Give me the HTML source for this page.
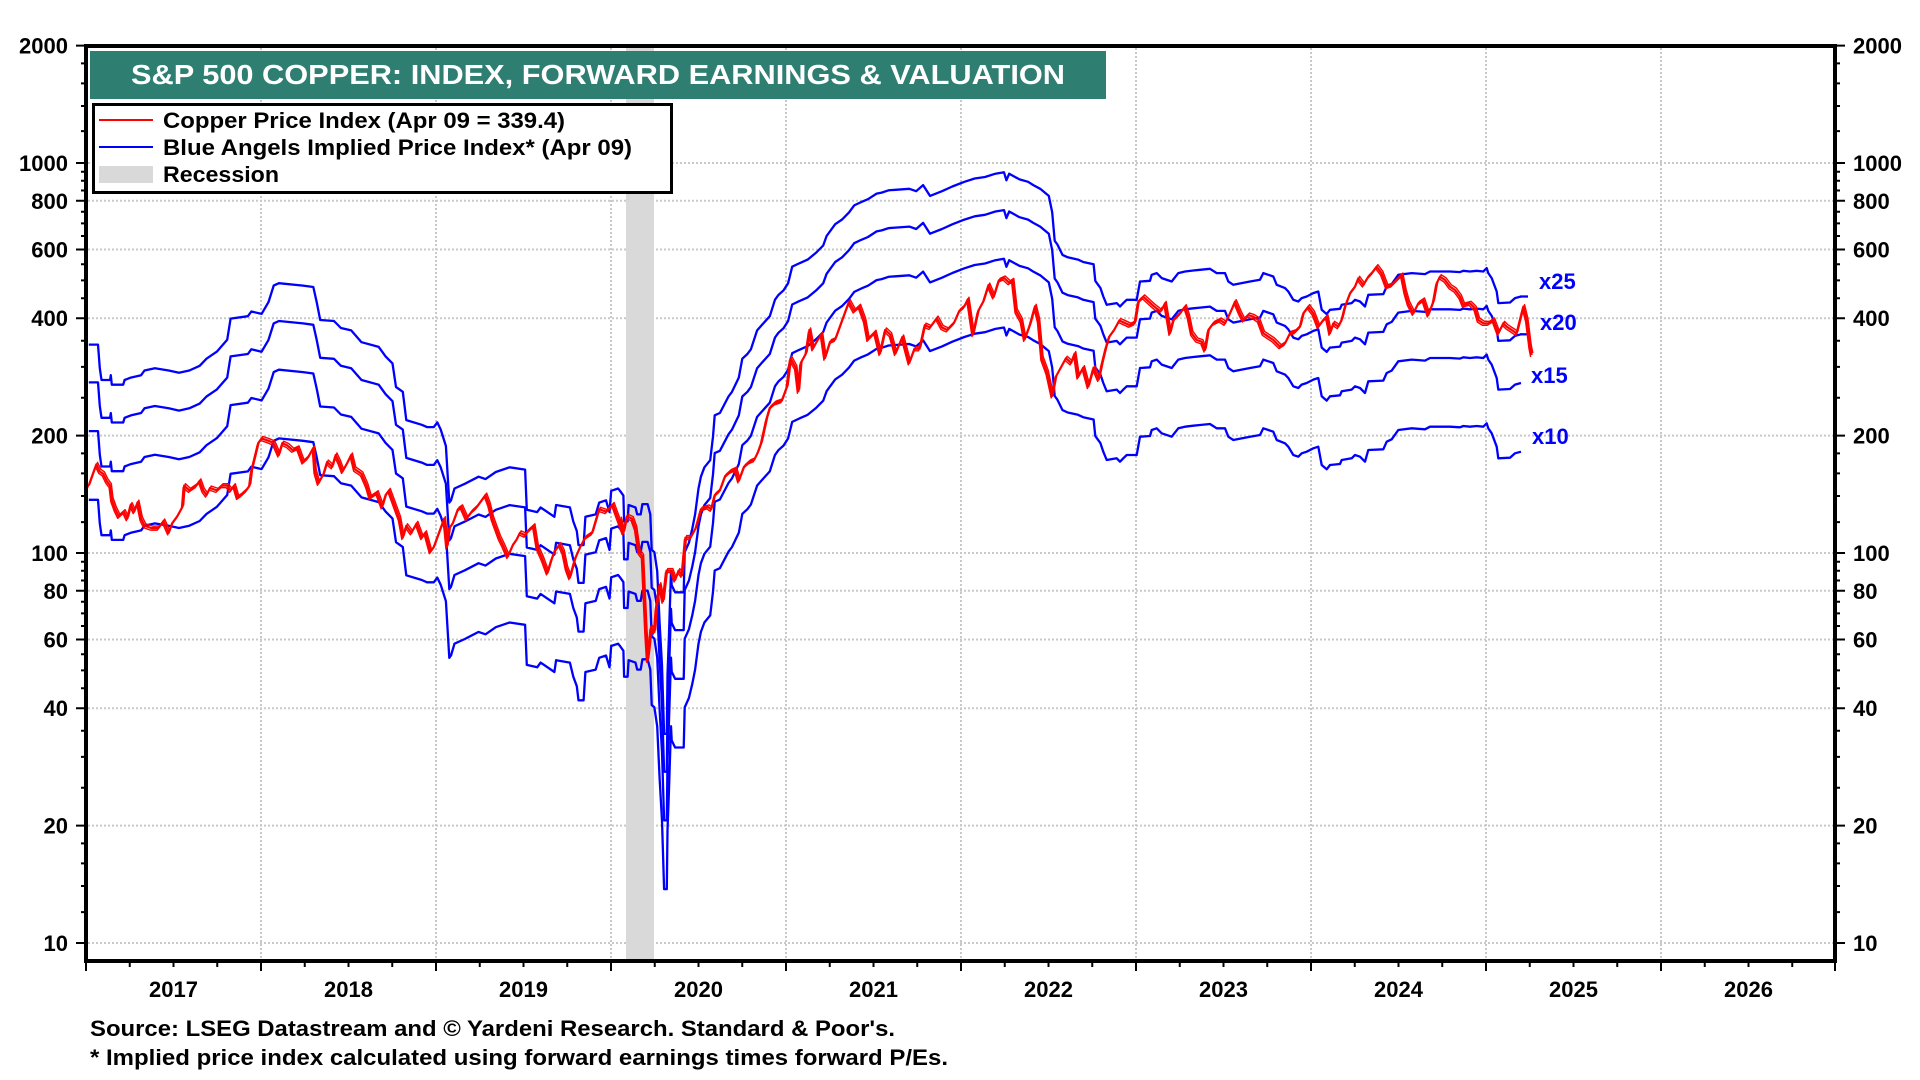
<!DOCTYPE html>
<html><head><meta charset="utf-8"><style>
html,body{margin:0;padding:0;background:#fff;}
svg{display:block;}
text{font-family:"Liberation Sans",Arial,sans-serif;font-weight:bold;}
</style></head><body>
<svg width="1920" height="1080" viewBox="0 0 1920 1080" xmlns="http://www.w3.org/2000/svg">
<rect x="0" y="0" width="1920" height="1080" fill="#fff"/>

<!-- gridlines -->
<g stroke="#c9c9c9" stroke-width="2" stroke-dasharray="2,2" fill="none">
<path d="M88,163H1833 M88,200.8H1833 M88,249.5H1833 M88,318.2H1833 M88,435.6H1833 M88,553H1833 M88,590.8H1833 M88,639.5H1833 M88,708.2H1833 M88,825.6H1833 M88,943H1833"/>
<path d="M261,48V959 M436,48V959 M611,48V959 M786,48V959 M961,48V959 M1136,48V959 M1311,48V959 M1486,48V959 M1661,48V959"/>
</g>

<!-- recession -->
<rect x="626" y="48" width="28" height="911" fill="#d9d9d9"/>

<!-- blue lines -->
<defs>
<path id="b10" fill="none" d="M88.8,499.8 L98,499.8 99.8,523.4 101.5,535.2 110.1,535.2 110.8,530.4 111.8,539.9 123.2,539.9 124.6,535.2 130.8,532.8 141.1,530.4 144.5,525.7 154.9,523.4 168.7,525.7 179,528 189.3,525.7 199.7,521 206.5,513.9 216.9,506.8 227.2,495 230.6,473.8 247.9,471.4 251.3,466.7 261.6,469.1 268.5,457.3 273.7,440.8 278.9,438.4 303,440.8 313.3,442.2 316.7,457.3 320.2,475.2 334,476.2 340.9,483.2 351.2,485.6 361.5,497.4 378.7,502.1 385.6,511.6 392.5,518.6 396,542.2 402.8,547 406.3,575.3 421.8,580 427,582.3 433.8,582.3 437.3,577.6 440.7,584.7 445.9,601.2 449.3,657.8 451,655.5 454.5,643.7 464.8,639 478.6,631.9 485.5,634.3 495.8,627.2 509.6,622.5 525.1,624.8 526.8,664.9 537.2,667.3 540.6,662.6 554.4,672 556.1,660.2 569.9,662.6 573.3,676.7 576.8,686.2 578.5,700.3 583.6,700.3 585.4,672 595.7,669.6 599.2,657.8 606,655.5 609.5,667.3 611.2,646 618.1,643.7 620,646 623.4,650.8 624.1,676.7 627.6,676.7 628.6,660.2 635.5,662.6 637.2,669.6 640.7,669.6 642.4,659.3 647.6,659.3 650.3,669.6 651.7,705 654.4,707.4 657.2,726.3 659.6,778.2 662,820.7 664.1,889.1 666.8,889.1 667.5,830.1 668.9,792.3 671,726.3 671.7,740.4 675.1,747.5 683.7,747.5 684.7,707.4 688.9,698 692.3,683.8 695.1,669.6 698.5,643.7 700.9,631.9 704.4,622.5 710.2,615.4 713,591.8 714.7,570.5 719.9,568.2 728.5,551.7 732,547 738.8,532.8 742.3,513.9 747.4,509.2 750.9,504.5 757.1,485.6 761.2,480.9 769.8,471.4 775,454.9 778.4,450.2 783.6,445.5 788.1,438.4 792.2,421.9 799.1,418.6 807.7,414.8 816.3,407.7 823.2,400.7 826.6,391.2 835.2,379.4 842.1,374.7 849,367.6 854.2,360.6 861.1,357.3 868,354.4 876.6,348.8 881.7,347.8 888.6,345.5 895.5,345 909.3,344 916.2,346.4 923.1,340.3 930,351.1 942,346.4 952.3,341.7 964.4,337 974.7,333.7 985,332.2 995.4,328.9 1004,327.5 1006.4,335.5 1009.2,328.9 1019.5,334.6 1028.1,337 1033.3,340.3 1040.2,344 1048.8,351.1 1052.2,367.6 1054.7,396 1057.4,399.7 1062.5,410.1 1067.7,412.5 1078,414.8 1083.2,417.2 1093.6,419.5 1095.3,436.1 1100.4,443.1 1103.3,451.7 1106.7,460 1116.7,458.3 1120,461.7 1123.3,458.3 1126.7,455 1136.7,455 1140,436.7 1150,436 1151.7,430 1156.7,428.3 1161.7,433.3 1171.7,436.7 1178.3,428.3 1185,426.7 1193.3,425.7 1200,425 1210,424 1216.7,428.3 1225,428.3 1228.3,436.7 1233.3,440 1250,436.7 1260,435 1263.3,428.3 1268.3,430 1273.3,431.7 1276.7,440 1285,443.3 1288.3,446.7 1293.3,455 1298.3,456.7 1301.7,453.3 1306.7,451.7 1313.3,448.3 1318.3,446.7 1321.7,465 1326.7,469.3 1330,465 1340,464 1341.7,460 1351.7,458.3 1355,455 1360,456.7 1365,461.7 1368.3,450 1383.3,449.3 1386.7,441.7 1391.7,439.3 1398.3,430 1411.7,428.3 1425,429.3 1430,426.7 1450,426.7 1460,427.3 1463.3,426 1470,426.7 1476.7,426 1483.3,426.7 1486.7,423.3 1488.3,428.3 1491.7,433.3 1496.7,446.7 1498.3,458.3 1510,457.7 1515,453.3 1521,451.7"/>
<g id="red">
<g transform="translate(86,160) scale(0.34438,0.47194)">
<path vector-effect="non-scaling-stroke" d="M8,690 L20,665 30,645 40,660 50,665 60,680 70,690 75,720 85,740 95,755 110,745 120,760 130,730 140,745 150,725 160,760 170,775 190,780 210,780 225,765 240,790 250,770 265,755 280,735 285,690 300,700 320,690 330,680 340,700 350,710 360,695 380,700 395,690 410,690 420,700 430,690 440,715 450,710 465,700 475,690 480,660 490,630 500,600 510,590 530,595 545,600 560,625 570,600 585,605 600,615 615,610 630,640 645,630 660,610 665,660 675,685 690,665 700,640 715,650 725,625 735,640 745,660 760,640 770,625 780,655 800,665 815,690 825,715 845,705 860,735 870,710 880,700 890,720 900,740 910,760 920,800 930,775 945,790 960,770 975,800 985,790 1000,830 1010,820 1020,800 1030,780 1040,760 1048,820 1055,780 1065,770 1080,740 1090,735 1105,760 1120,745 1135,735 1150,720 1160,710 1170,730 1180,760 1190,780 1200,800 1210,815 1225,840 1240,815 1250,805 1260,790 1275,795 1285,785 1300,775 1310,820 1325,845 1340,875 1350,850 1360,830 1375,815 1385,830 1395,865 1405,885 1420,845 1435,820 1450,800 1470,790 1490,740 1510,745 1530,730 1545,760 1560,790"/>
</g>
<g transform="translate(620,160) scale(0.34438,0.47194)">
<path vector-effect="non-scaling-stroke" d="M0,760 L10,790 20,755 35,760 45,780 55,830 65,840 70,920 75,1000 80,1060 85,1030 90,990 100,1000 105,950 115,900 125,935 135,870 150,870 160,890 170,870 180,880 190,800 205,800 220,780 235,740 255,735 265,740 275,710 290,700 305,670 320,660 335,655 345,680 360,650 375,640 390,635 400,620 410,600 425,550 435,525 450,515 470,510 485,480 495,420 510,440 518,490 525,430 540,410 550,360 560,400 575,380 585,370 595,420 610,385 625,380 640,350 655,320 665,300 680,320 695,310 710,340 720,380 740,365 755,410 770,360 785,370 800,410 820,375 840,430 855,400 870,400 885,350 900,355 920,335 935,355 950,360 970,345 985,320 1000,310 1010,295 1025,370 1040,320 1055,300 1070,265 1085,290 1100,255 1115,250 1130,260 1140,255 1150,320 1165,340 1175,380 1190,350 1205,310 1215,340 1225,420 1240,450 1255,500 1265,460 1280,440 1295,420 1310,430 1320,410 1330,460 1345,440 1360,480 1375,440 1390,465 1400,430 1410,400 1420,375 1435,360 1450,340 1465,345 1480,350 1495,345 1505,300 1520,290 1535,300 1550,310 1568,320"/>
</g>
<g transform="translate(1100,160) scale(0.33333)">
<path vector-effect="non-scaling-stroke" d="M180,448 L185,450 195,430 210,520 220,480 240,460 255,440 265,470 275,520 290,540 305,545 315,570 325,510 340,490 360,480 375,490 390,460 405,425 420,460 430,480 445,465 460,470 475,480 490,520 505,530 520,540 540,560 555,550 570,520 585,515 600,500 610,460 625,440 640,460 655,500 670,480 680,470 690,520 700,490 715,500 725,480 735,440 750,400 765,380 775,355 790,375 805,350 815,340 830,320 845,340 860,380 875,375 890,360 905,345 915,395 925,430 940,460 955,430 970,420 985,465 1000,425 1010,370 1020,350 1035,360 1050,380 1065,390 1080,410 1090,435 1110,430 1125,445 1135,480 1150,490 1165,490 1180,480 1195,520 1210,490 1220,500 1235,510 1250,520 1260,480 1270,440 1280,480 1285,520 1290,560 1295,585"/>
</g>
</g>
</defs>
<g stroke="#0000ff" stroke-width="2.3" fill="none" stroke-linejoin="round">
<use href="#b10"/>
<g transform="translate(0,-68.7)"><use href="#b10"/></g>
<g transform="translate(0,-117.4)"><use href="#b10"/><path d="M1520,451.7H1528"/></g>
<g transform="translate(0,-155.2)"><use href="#b10"/><path d="M1520,451.7H1528"/></g>
</g>

<!-- red line (with slight texture) -->
<g stroke="#ff0000" fill="none" stroke-linejoin="round">
<g stroke-width="1.4" transform="translate(1.2,-2)"><use href="#red"/></g>
<g stroke-width="1.4" transform="translate(-1,2)"><use href="#red"/></g>
<g stroke-width="2.2"><use href="#red"/></g>
</g>

<!-- frame -->
<rect x="86" y="46" width="1749" height="915" fill="none" stroke="#000" stroke-width="4"/>

<!-- y ticks -->
<g stroke="#000" stroke-width="2" fill="none">
<path d="M76,45.6H86 M76,163H86 M76,200.8H86 M76,249.5H86 M76,318.2H86 M76,435.6H86 M76,553H86 M76,590.8H86 M76,639.5H86 M76,708.2H86 M76,825.6H86 M76,943H86"/>
<path d="M81,63.4H86 M81,83.4H86 M81,106H86 M81,131.1H86 M81,171.7H86 M81,180.8H86 M81,190.5H86 M81,211.7H86 M81,223.4H86 M81,236H86 M81,264.3H86 M81,280.4H86 M81,298.2H86 M81,340.8H86 M81,366.9H86 M81,397.8H86 M81,453.4H86 M81,473.4H86 M81,496H86 M81,522.1H86 M81,561.7H86 M81,570.8H86 M81,580.5H86 M81,601.7H86 M81,613.4H86 M81,626H86 M81,654.3H86 M81,670.4H86 M81,688.2H86 M81,730.8H86 M81,756.9H86 M81,787.8H86 M81,843.4H86 M81,863.4H86 M81,886H86 M81,912.1H86"/>
<path d="M1835,45.6H1845 M1835,163H1845 M1835,200.8H1845 M1835,249.5H1845 M1835,318.2H1845 M1835,435.6H1845 M1835,553H1845 M1835,590.8H1845 M1835,639.5H1845 M1835,708.2H1845 M1835,825.6H1845 M1835,943H1845"/>
<path d="M1835,63.4H1840 M1835,83.4H1840 M1835,106H1840 M1835,131.1H1840 M1835,171.7H1840 M1835,180.8H1840 M1835,190.5H1840 M1835,211.7H1840 M1835,223.4H1840 M1835,236H1840 M1835,264.3H1840 M1835,280.4H1840 M1835,298.2H1840 M1835,340.8H1840 M1835,366.9H1840 M1835,397.8H1840 M1835,453.4H1840 M1835,473.4H1840 M1835,496H1840 M1835,522.1H1840 M1835,561.7H1840 M1835,570.8H1840 M1835,580.5H1840 M1835,601.7H1840 M1835,613.4H1840 M1835,626H1840 M1835,654.3H1840 M1835,670.4H1840 M1835,688.2H1840 M1835,730.8H1840 M1835,756.9H1840 M1835,787.8H1840 M1835,843.4H1840 M1835,863.4H1840 M1835,886H1840 M1835,912.1H1840"/>
<!-- x ticks -->
<path d="M86,961V971 M261,961V971 M436,961V971 M611,961V971 M786,961V971 M961,961V971 M1136,961V971 M1311,961V971 M1486,961V971 M1661,961V971 M1835,961V971"/>
<path d="M129.75,961V967 M173.5,961V967 M217.25,961V967 M304.75,961V967 M348.5,961V967 M392.25,961V967 M479.75,961V967 M523.5,961V967 M567.25,961V967 M654.75,961V967 M698.5,961V967 M742.25,961V967 M829.75,961V967 M873.5,961V967 M917.25,961V967 M1004.75,961V967 M1048.5,961V967 M1092.25,961V967 M1179.75,961V967 M1223.5,961V967 M1267.25,961V967 M1354.75,961V967 M1398.5,961V967 M1442.25,961V967 M1529.75,961V967 M1573.5,961V967 M1617.25,961V967 M1704.75,961V967 M1748.5,961V967 M1792.25,961V967"/>
</g>

<!-- y labels -->
<g font-size="22" fill="#000" text-anchor="end">
<text x="68" y="53.6">2000</text>
<text x="68" y="171">1000</text>
<text x="68" y="208.8">800</text>
<text x="68" y="257.5">600</text>
<text x="68" y="326.2">400</text>
<text x="68" y="443.6">200</text>
<text x="68" y="561">100</text>
<text x="68" y="598.8">80</text>
<text x="68" y="647.5">60</text>
<text x="68" y="716.2">40</text>
<text x="68" y="833.6">20</text>
<text x="68" y="951">10</text>
</g>
<g font-size="22" fill="#000">
<text x="1853" y="53.6">2000</text>
<text x="1853" y="171">1000</text>
<text x="1853" y="208.8">800</text>
<text x="1853" y="257.5">600</text>
<text x="1853" y="326.2">400</text>
<text x="1853" y="443.6">200</text>
<text x="1853" y="561">100</text>
<text x="1853" y="598.8">80</text>
<text x="1853" y="647.5">60</text>
<text x="1853" y="716.2">40</text>
<text x="1853" y="833.6">20</text>
<text x="1853" y="951">10</text>
</g>

<!-- x labels -->
<g font-size="22" fill="#000" text-anchor="middle">
<text x="173.5" y="997">2017</text>
<text x="348.5" y="997">2018</text>
<text x="523.5" y="997">2019</text>
<text x="698.5" y="997">2020</text>
<text x="873.5" y="997">2021</text>
<text x="1048.5" y="997">2022</text>
<text x="1223.5" y="997">2023</text>
<text x="1398.5" y="997">2024</text>
<text x="1573.5" y="997">2025</text>
<text x="1748.5" y="997">2026</text>
</g>

<!-- multiple labels -->
<g font-size="22" fill="#0000ff">
<text x="1539" y="289">x25</text>
<text x="1540" y="330">x20</text>
<text x="1531" y="383">x15</text>
<text x="1532" y="444">x10</text>
</g>

<!-- title -->
<rect x="90" y="51" width="1016" height="48" fill="#2f7e72"/>
<text x="131" y="84" font-size="28" fill="#fff" textLength="934" lengthAdjust="spacingAndGlyphs">S&amp;P 500 COPPER: INDEX, FORWARD EARNINGS &amp; VALUATION</text>

<!-- legend -->
<rect x="93.5" y="104.5" width="578" height="88" fill="#fff" stroke="#000" stroke-width="3"/>
<line x1="99" y1="120" x2="153" y2="120" stroke="#ff0000" stroke-width="2"/>
<line x1="99" y1="147" x2="153" y2="147" stroke="#0000ff" stroke-width="2"/>
<rect x="99" y="166" width="54" height="17" fill="#d9d9d9"/>
<g font-size="22" fill="#000">
<text x="163" y="128" textLength="402" lengthAdjust="spacingAndGlyphs">Copper Price Index (Apr 09 = 339.4)</text>
<text x="163" y="155" textLength="469" lengthAdjust="spacingAndGlyphs">Blue Angels Implied Price Index* (Apr 09)</text>
<text x="163" y="182" textLength="116" lengthAdjust="spacingAndGlyphs">Recession</text>
</g>

<!-- footer -->
<g font-size="22" fill="#000">
<text x="90" y="1036" textLength="805" lengthAdjust="spacingAndGlyphs">Source: LSEG Datastream and © Yardeni Research. Standard &amp; Poor's.</text>
<text x="90" y="1065" textLength="858" lengthAdjust="spacingAndGlyphs">* Implied price index calculated using forward earnings times forward P/Es.</text>
</g>
</svg>
</body></html>
